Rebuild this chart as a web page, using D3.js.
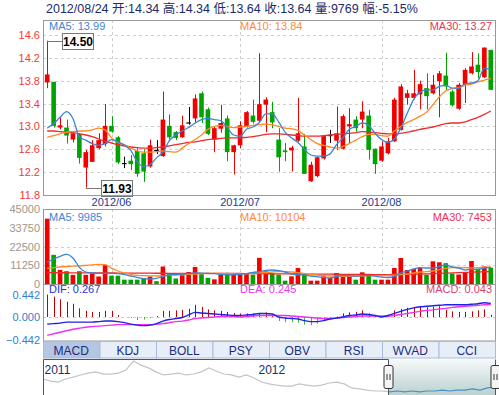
<!DOCTYPE html>
<html>
<head>
<meta charset="utf-8">
<script src="https://cdn.jsdelivr.net/npm/d3@7"></script>
<style>
body { margin: 0; background: #fff; }
svg text { font-family: "Liberation Sans", Arial, "Noto Sans CJK SC", sans-serif; }
</style>
</head>
<body>
<div id="chart"></div>
<script>
// Daily data, 2012/05/18 .. 2012/08/24 (70 trading days)
const open = [13.77, 13.78, 12.98, 12.98, 12.77, 12.87, 12.28, 12.38, 12.62, 12.69,
    13.01, 12.81, 12.35, 12.40, 12.57, 12.53, 12.30, 12.58, 12.48, 13.01,
    12.90, 12.81, 13.06, 13.14, 13.58, 13.30, 12.77, 12.96, 13.14, 12.55,
    12.67, 13.00, 13.19, 13.10, 13.38, 13.25, 12.77, 12.58, 12.58, 12.75,
    12.65, 12.04, 12.13, 12.44, 12.84, 12.75, 12.61, 13.00, 13.12, 13.12,
    13.19, 12.61, 12.40, 12.53, 12.74, 12.94, 13.50, 13.50, 13.56, 13.67,
    13.58, 13.79, 13.89, 13.61, 13.31, 13.73, 13.93, 14.08, 13.86, 14.34];
const close = [13.91, 13.01, 13.02, 12.84, 12.88, 12.45, 12.55, 12.67, 12.76, 13.01,
    12.91, 12.37, 12.35, 12.34, 12.17, 12.21, 12.67, 12.58, 13.12, 12.81,
    12.80, 13.02, 13.06, 13.49, 13.16, 12.87, 12.97, 13.06, 12.55, 12.67,
    13.02, 13.25, 13.08, 13.39, 13.47, 13.07, 12.46, 12.55, 12.63, 12.88,
    12.17, 12.33, 12.46, 12.83, 12.84, 12.88, 13.18, 13.04, 12.97, 13.26,
    12.59, 12.34, 12.65, 12.74, 13.47, 13.70, 13.58, 13.58, 13.74, 13.53,
    13.73, 13.93, 13.70, 13.37, 13.73, 13.99, 14.05, 13.95, 14.38, 13.64];
const high = [14.50, 13.78, 13.16, 13.12, 12.92, 12.88, 12.59, 12.76, 12.88, 13.39,
    13.18, 12.83, 12.47, 12.50, 12.62, 12.60, 12.77, 12.76, 13.61, 13.21,
    12.92, 13.19, 13.34, 13.56, 13.61, 13.33, 13.00, 13.38, 13.19, 12.68,
    13.09, 13.27, 13.47, 14.28, 13.51, 13.43, 12.97, 12.71, 12.66, 13.50,
    12.87, 12.38, 12.47, 12.85, 12.94, 13.35, 13.21, 13.32, 13.18, 13.44,
    13.29, 12.61, 12.74, 12.80, 13.50, 13.74, 13.64, 13.99, 13.80, 13.93,
    13.90, 13.97, 14.29, 13.64, 13.76, 14.02, 14.30, 14.28, 14.38, 14.34];
const low = [13.67, 12.98, 12.95, 12.70, 12.72, 12.35, 11.93, 12.38, 12.60, 12.65,
    12.89, 12.34, 12.27, 12.24, 12.12, 12.03, 12.28, 12.52, 12.47, 12.77,
    12.76, 12.80, 13.03, 13.06, 13.06, 12.85, 12.55, 12.89, 12.39, 12.16,
    12.62, 12.98, 13.05, 13.08, 12.90, 12.97, 12.21, 12.39, 12.21, 12.73,
    12.17, 12.03, 12.11, 12.42, 12.71, 12.59, 12.60, 12.70, 12.91, 12.97,
    12.42, 12.17, 12.38, 12.51, 12.73, 12.93, 13.38, 13.47, 13.30, 13.30,
    13.56, 13.16, 13.64, 13.35, 13.29, 13.41, 13.91, 13.84, 13.85, 13.64];
const volume = [39200, 17500, 8500, 7700, 5500, 7700, 5500, 6300, 4500, 11300,
    5000, 5000, 2600, 2600, 2600, 3400, 4500, 1700, 10500, 6000,
    3300, 5300, 7200, 10200, 5900, 3700, 2800, 5700, 6700, 5500,
    6500, 6500, 5600, 15700, 7600, 6000, 5600, 2000, 4600, 9600,
    6000, 2000, 2000, 4600, 3600, 6600, 4800, 4600, 2600, 7000,
    5600, 2600, 2600, 2600, 9600, 15600, 8400, 9000, 9800, 5600,
    13600, 13000, 12500, 6300, 5700, 6600, 13800, 9200, 10500, 9769];

// Moving averages as drawn
const ma5 = [12.97, 13.05, 13.16, 13.26, 13.14, 12.82, 12.76, 12.70, 12.67, 12.70,
    12.77, 12.73, 12.67, 12.58, 12.38, 12.30, 12.33, 12.45, 12.55, 12.75,
    12.85, 12.92, 12.98, 13.06, 13.12, 13.14, 13.12, 13.10, 12.98, 12.85,
    12.83, 12.95, 12.99, 13.07, 13.22, 13.22, 13.08, 12.90, 12.80, 12.72,
    12.60, 12.50, 12.48, 12.48, 12.52, 12.68, 12.80, 12.95, 13.00, 13.06,
    13.02, 12.88, 12.77, 12.72, 12.78, 12.97, 13.23, 13.47, 13.60, 13.64,
    13.64, 13.70, 13.72, 13.67, 13.67, 13.75, 13.76, 13.80, 14.02, 13.99];
const ma10 = [12.81, 12.84, 12.87, 12.90, 12.91, 12.92, 12.92, 12.94, 12.97, 12.94,
    12.80, 12.72, 12.68, 12.62, 12.57, 12.55, 12.55, 12.56, 12.57, 12.56,
    12.55, 12.62, 12.70, 12.77, 12.85, 12.95, 13.00, 13.02, 13.00, 12.98,
    12.99, 13.00, 13.02, 13.03, 13.04, 13.03, 13.00, 12.97, 12.96, 12.93,
    12.85, 12.77, 12.70, 12.67, 12.64, 12.62, 12.65, 12.70, 12.76, 12.82,
    12.86, 12.86, 12.84, 12.83, 12.92, 13.00, 13.07, 13.12, 13.18, 13.25,
    13.38, 13.52, 13.62, 13.66, 13.68, 13.72, 13.74, 13.78, 13.81, 13.84];
const ma30 = [12.92, 12.92, 12.91, 12.90, 12.89, 12.87, 12.85, 12.82, 12.78, 12.74,
    12.71, 12.68, 12.66, 12.64, 12.63, 12.62, 12.62, 12.63, 12.64, 12.66,
    12.68, 12.70, 12.72, 12.73, 12.75, 12.77, 12.78, 12.79, 12.80, 12.80,
    12.80, 12.81, 12.82, 12.84, 12.86, 12.87, 12.87, 12.86, 12.85, 12.84,
    12.83, 12.83, 12.83, 12.84, 12.85, 12.86, 12.87, 12.88, 12.89, 12.91,
    12.90, 12.89, 12.88, 12.87, 12.87, 12.88, 12.90, 12.92, 12.95, 12.97,
    12.99, 13.02, 13.05, 13.06, 13.06, 13.08, 13.12, 13.16, 13.21, 13.27];
const volMa5 = [13000, 15000, 16600, 17800, 15600, 10000, 7200, 6600, 6400, 6400,
    6400, 6200, 5600, 4800, 4000, 3200, 3000, 3400, 4600, 5400,
    5700, 6000, 6300, 6600, 6500, 6300, 6200, 5800, 5400, 5600,
    5800, 6200, 7000, 7400, 8200, 8400, 8000, 7200, 6000, 5500,
    5400, 4800, 4400, 3800, 3600, 4500, 5200, 5000, 4800, 5000,
    5200, 4700, 4100, 3900, 4600, 6600, 7800, 9000, 9800, 9600,
    9600, 10500, 11400, 10300, 9500, 8400, 8800, 8800, 9600, 9985];
const volMa10 = [9400, 9800, 10200, 10500, 10700, 10900, 11200, 11500, 11800, 11600,
    9500, 7800, 6600, 5800, 5200, 5000, 4900, 4800, 4900, 5200,
    5400, 5600, 5800, 6000, 6200, 6400, 6400, 6300, 6200, 6100,
    6000, 6100, 6500, 6700, 6900, 7200, 7400, 7400, 7200, 6800,
    6200, 5700, 5300, 5000, 4800, 4700, 4600, 4600, 4700, 4800,
    5000, 5000, 5000, 5100, 5300, 5600, 6000, 6600, 7200, 7400,
    7800, 8600, 9400, 9800, 9900, 9800, 9700, 9800, 10000, 10104];
const volMa30 = [6800, 6780, 6750, 6740, 6720, 6700, 6690, 6660, 6640, 6620,
    6600, 6580, 6560, 6550, 6520, 6500, 6480, 6460, 6450, 6420,
    6400, 6390, 6380, 6370, 6360, 6350, 6340, 6330, 6320, 6300,
    6300, 6270, 6240, 6210, 6180, 6150, 6120, 6090, 6060, 6030,
    6000, 5970, 5940, 5910, 5880, 5850, 5820, 5790, 5760, 5730,
    5700, 5680, 5660, 5680, 5720, 5780, 5850, 5920, 6000, 6100,
    6200, 6350, 6500, 6650, 6800, 6950, 7100, 7220, 7340, 7453];

// MACD
const dif = [-0.14, -0.13, -0.12, -0.10, -0.10, -0.10, -0.10, -0.10, -0.09, -0.08,
    -0.08, -0.09, -0.11, -0.14, -0.16, -0.17, -0.16, -0.13, -0.08, -0.05,
    -0.03, -0.01, 0.04, 0.09, 0.08, 0.07, 0.06, 0.05, 0.04, 0.03,
    0.03, 0.04, 0.05, 0.07, 0.07, 0.06, 0.00, -0.02, -0.03, -0.04,
    -0.07, -0.09, -0.09, -0.07, -0.04, -0.02, 0.00, 0.03, 0.04, 0.06,
    0.05, 0.03, 0.00, 0.03, 0.07, 0.11, 0.15, 0.18, 0.20, 0.21,
    0.22, 0.23, 0.24, 0.24, 0.24, 0.24, 0.25, 0.26, 0.28, 0.267];
const dea = [-0.36, -0.33, -0.30, -0.27, -0.24, -0.22, -0.20, -0.19, -0.18, -0.17,
    -0.16, -0.15, -0.15, -0.15, -0.15, -0.15, -0.15, -0.14, -0.13, -0.11,
    -0.09, -0.08, -0.06, -0.03, -0.02, -0.01, 0.00, 0.01, 0.01, 0.01,
    0.00, 0.01, 0.02, 0.03, 0.03, 0.03, 0.03, 0.03, 0.02, 0.01,
    0.00, -0.01, -0.02, -0.03, -0.03, -0.02, -0.01, 0.00, 0.01, 0.02,
    0.02, 0.02, 0.02, 0.02, 0.03, 0.05, 0.07, 0.09, 0.11, 0.13,
    0.14, 0.16, 0.17, 0.19, 0.20, 0.21, 0.22, 0.23, 0.24, 0.245];
const macd = [0.44, 0.40, 0.35, 0.30, 0.26, 0.17, 0.12, 0.10, 0.10, 0.12,
    0.12, 0.04, 0.00, -0.02, -0.06, -0.05, -0.02, 0.02, 0.12, 0.12,
    0.13, 0.14, 0.16, 0.24, 0.20, 0.15, 0.13, 0.12, 0.10, 0.08,
    0.07, 0.07, 0.07, 0.08, 0.09, 0.05, -0.08, -0.10, -0.10, -0.11,
    -0.15, -0.16, -0.13, -0.07, -0.02, 0.01, 0.07, 0.09, 0.10, 0.13,
    0.07, 0.02, 0.01, 0.03, 0.13, 0.16, 0.18, 0.20, 0.20, 0.19,
    0.20, 0.21, 0.14, 0.11, 0.10, 0.10, 0.11, 0.13, 0.15, 0.043];

// Axis ticks and labels
const monthTicks = [{ idx: 10, label: "2012/06" }, { idx: 30, label: "2012/07" }, { idx: 52, label: "2012/08" }];
const priceTicks = [14.6, 14.2, 13.8, 13.4, 13.0, 12.6, 12.2, 11.8];
const volTicks = [45000, 33750, 22500, 11250, 0];
const macdTicks = [0.442, 0, -0.442];
const tabs = ["MACD", "KDJ", "BOLL", "PSY", "OBV", "RSI", "WVAD", "CCI"];
const header = "2012/08/24 开:14.34 高:14.34 低:13.64 收:13.64 量:9769 幅:-5.15%";

// Navigator (longer history)
const navValues = [17.2, 16.5, 16.2, 17.2, 17.8, 18.5, 19.1, 19.5, 18.8, 18.8,
    19.1, 20.1, 23.0, 21.7, 20.8, 19.5, 18.5, 18.8, 19.1, 18.5,
    18.8, 19.5, 20.8, 19.8, 18.8, 18.5, 17.8, 18.5, 17.5, 16.2,
    15.6, 15.2, 14.9, 14.9, 15.6, 15.2, 14.9, 15.2, 15.9, 16.2,
    15.6, 14.3, 14.0, 13.6, 13.3, 13.3, 13.0, 13.3, 13.0, 13.3,
    13.0, 13.3, 13.3, 13.6, 13.3, 13.6, 13.6, 14.0, 13.6, 14.3,
    14.6];
const navYears = [{ k: 0.2, label: "2011" }, { k: 28.6, label: "2012" }];
const navSel = [45.8, 60];

const width = 499, height = 395;
const left = 43, right = 495;
const pw = right - left;

const svg = d3.select("#chart").append("svg")
    .attr("width", width)
    .attr("height", height);

const defs = svg.append("defs");
const grad = defs.append("linearGradient").attr("id", "navgrad")
    .attr("x1", 0).attr("y1", 0).attr("x2", 0).attr("y2", 1);
grad.append("stop").attr("offset", "0%").attr("stop-color", "#f6f9f9");
grad.append("stop").attr("offset", "100%").attr("stop-color", "#b9d0d0");

// Scales
const idx = d3.range(open.length);
const x = d3.scaleBand().domain(idx).range([44, 494]).paddingInner(0.28).paddingOuter(0.14);
const cx = i => x(i) + x.bandwidth() / 2;
const yPrice = d3.scaleLinear().domain([11.8, 14.6]).range([195, 35]);
const yVol = d3.scaleLinear().domain([0, 45000]).range([284, 209]);
const yMacd = d3.scaleLinear().domain([-0.442, 0.442]).range([339.5, 294.5]);

const UP = "#f20000", DOWN = "#00a300";
const candleColor = i => close[i] > open[i] ? UP : close[i] < open[i] ? DOWN : "#000";
const volColor = i => close[i] > open[i] ? UP : close[i] < open[i] ? DOWN :
    (i > 0 && close[i] < close[i - 1] ? DOWN : UP);

// Header
svg.append("text")
    .attr("x", 46).attr("y", 13)
    .attr("font-size", "12.5px")
    .attr("fill", "#1b2b6b")
    .text(header);

// Grid helpers
function hGrid(scale, values) {
    svg.append("g").selectAll("line").data(values).join("line")
        .attr("x1", left).attr("x2", right)
        .attr("y1", d => Math.round(scale(d)) + 0.5)
        .attr("y2", d => Math.round(scale(d)) + 0.5)
        .attr("stroke", "#cfcfcf")
        .attr("stroke-dasharray", "3,3");
}
function vGrid(y1, y2) {
    svg.append("g").selectAll("line").data(monthTicks).join("line")
        .attr("x1", d => Math.round(cx(d.idx)) + 0.5)
        .attr("x2", d => Math.round(cx(d.idx)) + 0.5)
        .attr("y1", y1).attr("y2", y2)
        .attr("stroke", "#cfcfcf")
        .attr("stroke-dasharray", "3,3");
}
function yAxis(scale, values, fmt, color) {
    const g = svg.append("g")
        .attr("transform", `translate(${left - 1},0)`)
        .call(d3.axisLeft(scale).tickValues(values).tickSize(0).tickPadding(2).tickFormat(fmt));
    g.select(".domain").remove();
    g.selectAll("text")
        .attr("font-family", null)
        .attr("font-size", "11px")
        .attr("fill", color);
}
function legend(y, items) {
    items.forEach(it => {
        svg.append("text")
            .attr("x", it.x).attr("y", y)
            .attr("text-anchor", it.anchor || "start")
            .attr("font-size", "11px")
            .attr("fill", it.color)
            .text(it.text);
    });
}

// ---- Price panel ----
hGrid(yPrice, priceTicks.filter(d => d > 11.8));
vGrid(20, 195);
yAxis(yPrice, priceTicks, d3.format(".1f"), "#f23a3a");

const candles = svg.append("g");
idx.forEach(i => {
    const c = candleColor(i);
    const xc = Math.round(cx(i)) + 0.5;
    candles.append("line")
        .attr("x1", xc).attr("x2", xc)
        .attr("y1", yPrice(high[i])).attr("y2", yPrice(low[i]))
        .attr("stroke", c);
    if (open[i] === close[i]) {
        candles.append("line")
            .attr("x1", x(i)).attr("x2", x(i) + x.bandwidth())
            .attr("y1", yPrice(close[i])).attr("y2", yPrice(close[i]))
            .attr("stroke", c).attr("stroke-width", 1.2);
    } else {
        candles.append("rect")
            .attr("x", x(i))
            .attr("y", yPrice(Math.max(open[i], close[i])))
            .attr("width", x.bandwidth())
            .attr("height", Math.max(1, yPrice(Math.min(open[i], close[i])) - yPrice(Math.max(open[i], close[i]))))
            .attr("fill", c);
    }
});

const priceLine = arr => d3.line().x((d, i) => cx(i)).y(d => yPrice(d)).curve(d3.curveMonotoneX)(arr);
[[ma30, "#ee2b2b"], [ma10, "#ff8a24"], [ma5, "#3c84d6"]].forEach(([arr, col]) => {
    svg.append("path").attr("d", priceLine(arr))
        .attr("fill", "none").attr("stroke", col).attr("stroke-width", 1.3);
});

// High / low markers
function marker(i, value) {
    const yv = Math.round(yPrice(value)) + 0.5;
    const bx = Math.round(cx(i) + 15) + 0.5;
    svg.append("line")
        .attr("x1", cx(i)).attr("x2", bx)
        .attr("y1", yv).attr("y2", yv)
        .attr("stroke", "#777");
    svg.append("rect")
        .attr("x", bx).attr("y", yv - 8)
        .attr("width", 31).attr("height", 16)
        .attr("fill", "#fff").attr("stroke", "#777");
    svg.append("text")
        .attr("x", bx + 15.5).attr("y", yv + 4.5)
        .attr("text-anchor", "middle")
        .attr("font-size", "12px").attr("font-weight", "bold")
        .attr("fill", "#000")
        .text(value.toFixed(2));
}
const hi = d3.maxIndex(high), lo = d3.minIndex(low);
marker(hi, high[hi]);
marker(lo, low[lo]);

svg.append("rect").attr("x", left + 0.5).attr("y", 20.5).attr("width", pw).attr("height", 175)
    .attr("fill", "none").attr("stroke", "#999");

legend(29.5, [
    { x: 49, text: `MA5: ${ma5[ma5.length - 1].toFixed(2)}`, color: "#3c84d6" },
    { x: 240, text: `MA10: ${ma10[ma10.length - 1].toFixed(2)}`, color: "#ff8a3a" },
    { x: 492, anchor: "end", text: `MA30: ${ma30[ma30.length - 1].toFixed(2)}`, color: "#ee3355" }
]);

// Month labels
svg.append("g").selectAll("text").data(monthTicks).join("text")
    .attr("x", d => cx(d.idx)).attr("y", 206)
    .attr("text-anchor", "middle")
    .attr("font-size", "11px")
    .attr("fill", "#1d3b8c")
    .text(d => d.label);

// ---- Volume panel ----
hGrid(yVol, volTicks.filter(d => d > 0 && d < 45000));
vGrid(209, 284);
yAxis(yVol, volTicks, d3.format("d"), "#a0968a");

svg.append("g").selectAll("rect").data(idx).join("rect")
    .attr("x", i => x(i))
    .attr("y", i => yVol(volume[i]))
    .attr("width", x.bandwidth())
    .attr("height", i => yVol(0) - yVol(volume[i]))
    .attr("fill", i => volColor(i));

const volLine = arr => d3.line().x((d, i) => cx(i)).y(d => yVol(d)).curve(d3.curveMonotoneX)(arr);
[[volMa30, "#ee2b2b"], [volMa10, "#ff8a24"], [volMa5, "#3c84d6"]].forEach(([arr, col]) => {
    svg.append("path").attr("d", volLine(arr))
        .attr("fill", "none").attr("stroke", col).attr("stroke-width", 1.3);
});

svg.append("rect").attr("x", left + 0.5).attr("y", 209.5).attr("width", pw).attr("height", 75)
    .attr("fill", "none").attr("stroke", "#999");

legend(221, [
    { x: 49, text: `MA5: ${volMa5[volMa5.length - 1]}`, color: "#3c84d6" },
    { x: 240, text: `MA10: ${volMa10[volMa10.length - 1]}`, color: "#ff8a3a" },
    { x: 492, anchor: "end", text: `MA30: ${volMa30[volMa30.length - 1]}`, color: "#ee3355" }
]);

// ---- MACD panel ----
hGrid(yMacd, [0]);
yAxis(yMacd, macdTicks, d3.format(".3f"), "#2f80d2");

svg.append("g").selectAll("line").data(idx.filter(i => macd[i] !== 0)).join("line")
    .attr("x1", i => Math.round(cx(i)) + 0.5)
    .attr("x2", i => Math.round(cx(i)) + 0.5)
    .attr("y1", yMacd(0))
    .attr("y2", i => yMacd(macd[i]))
    .attr("stroke", i => macd[i] > 0 ? "#c00000" : "#2fbf2f");

const macdLine = arr => d3.line().x((d, i) => cx(i)).y(d => yMacd(d)).curve(d3.curveMonotoneX)(arr);
svg.append("path").attr("d", macdLine(dea))
    .attr("fill", "none").attr("stroke", "#f030f0").attr("stroke-width", 1.4);
svg.append("path").attr("d", macdLine(dif))
    .attr("fill", "none").attr("stroke", "#2020e6").attr("stroke-width", 1.4);

svg.append("rect").attr("x", left + 0.5).attr("y", 284.5).attr("width", pw).attr("height", 56.5)
    .attr("fill", "none").attr("stroke", "#999");

legend(293, [
    { x: 49, text: `DIF: ${dif[dif.length - 1].toFixed(3)}`, color: "#2233dd" },
    { x: 240, text: `DEA: ${dea[dea.length - 1].toFixed(3)}`, color: "#ee33ee" },
    { x: 492, anchor: "end", text: `MACD: ${macd[macd.length - 1].toFixed(3)}`, color: "#e04070" }
]);

// ---- Indicator tabs ----
const tabW = pw / tabs.length;
const tabG = svg.append("g");
tabG.selectAll("rect").data(tabs).join("rect")
    .attr("x", (d, i) => left + i * tabW + 0.5)
    .attr("y", 341.5)
    .attr("width", tabW)
    .attr("height", 16.5)
    .attr("fill", (d, i) => i === 0 ? "#b5c6e3" : "#e7eef8")
    .attr("stroke", "#a9bbdb");
tabG.selectAll("text").data(tabs).join("text")
    .attr("x", (d, i) => left + i * tabW + tabW / 2)
    .attr("y", 354.5)
    .attr("text-anchor", "middle")
    .attr("font-size", "12px")
    .attr("fill", "#1c2c7c")
    .text(d => d);

// ---- Navigator ----
const navX = d3.scaleLinear().domain([0, navValues.length - 1]).range([left, right]);
const navY = d3.scaleLinear().domain([12, 24]).range([395, 358]);
const selX0 = navX(navSel[0]), selX1 = navX(navSel[1]);

svg.append("rect")
    .attr("x", selX0).attr("y", 359.5)
    .attr("width", selX1 - selX0).attr("height", 36)
    .attr("fill", "url(#navgrad)");

defs.append("clipPath").attr("id", "navLeft").append("rect")
    .attr("x", left).attr("y", 358).attr("width", selX0 - left).attr("height", 37);
defs.append("clipPath").attr("id", "navRight").append("rect")
    .attr("x", selX0).attr("y", 358).attr("width", selX1 - selX0).attr("height", 37);

const navLine = d3.line().x((d, i) => navX(i)).y(d => navY(d));
svg.append("path").attr("d", navLine(navValues))
    .attr("clip-path", "url(#navLeft)")
    .attr("fill", "none").attr("stroke", "#c4c4c4").attr("stroke-width", 1.2);
svg.append("path").attr("d", navLine(navValues))
    .attr("clip-path", "url(#navRight)")
    .attr("fill", "none").attr("stroke", "#4b8fc4").attr("stroke-width", 1.2);

svg.append("g").selectAll("text").data(navYears).join("text")
    .attr("x", d => navX(d.k)).attr("y", 374)
    .attr("font-size", "12px")
    .attr("fill", "#1c2c6c")
    .text(d => d.label);

// navigator outline
svg.append("path")
    .attr("d", `M${left + 0.5},395 V359.5 H${Math.round(selX0) + 0.5} V395`)
    .attr("fill", "none").attr("stroke", "#555");
svg.append("line")
    .attr("x1", Math.round(selX1) + 0.5).attr("x2", Math.round(selX1) + 0.5)
    .attr("y1", 359.5).attr("y2", 395)
    .attr("stroke", "#555");

// handles
[selX0, selX1].forEach(hx => {
    const h = svg.append("g").attr("transform", `translate(${Math.round(hx) + 0.5},377)`);
    h.append("rect").attr("x", -4.5).attr("y", -11.5).attr("width", 9).attr("height", 23)
        .attr("rx", 2).attr("fill", "#f4f4f4").attr("stroke", "#333");
    h.append("line").attr("x1", -1.5).attr("x2", -1.5).attr("y1", -3).attr("y2", 3).attr("stroke", "#333");
    h.append("line").attr("x1", 1.5).attr("x2", 1.5).attr("y1", -3).attr("y2", 3).attr("stroke", "#333");
});
</script>
</body>
</html>
